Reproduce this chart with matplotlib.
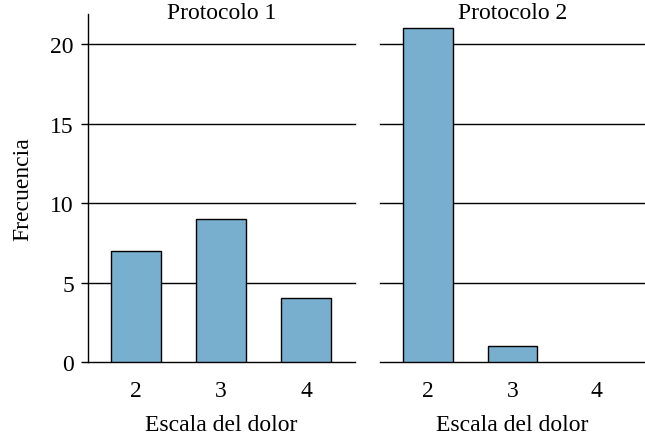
import matplotlib
matplotlib.use("Agg")
import matplotlib.pyplot as plt

plt.rcParams['font.family'] = ['Liberation Serif', 'DejaVu Serif']

escala = [2, 3, 4]
protocolo_1 = [7, 9, 4]
protocolo_2 = [21, 1, 0]
titulos = ["Protocolo 1", "Protocolo 2"]
y_ticks = [0, 5, 10, 15, 20]

bar_color = "#78aece"
fs = 17

fig = plt.figure(figsize=(6.45, 4.39), dpi=100)
ax1 = fig.add_axes([0.136, 0.173, 0.414, 0.793])
ax2 = fig.add_axes([0.589, 0.173, 0.411, 0.793])

for ax, data, titulo in zip([ax1, ax2], [protocolo_1, protocolo_2], titulos):
    # bars with zero height are not drawn in the reference
    lws = [1 if v > 0 else 0 for v in data]
    ax.bar(escala, data, width=0.59, color=bar_color, edgecolor="black", linewidth=lws, zorder=3)
    ax.set_xlim(1.43, 4.57)
    ax.set_ylim(0, 21.9)
    ax.set_yticks(y_ticks)
    ax.set_xticks(escala)
    ax.set_xticklabels([str(e) for e in escala], fontsize=fs)
    ax.yaxis.grid(True, color="black", linewidth=1, zorder=0)
    ax.set_axisbelow(True)
    for gl in ax.get_ygridlines():
        gl.set_clip_on(False)
    for s in ["top", "right", "bottom"]:
        ax.spines[s].set_visible(False)
    ax.tick_params(axis="x", length=0, pad=13)
    ax.set_xlabel("Escala del dolor", fontsize=fs, labelpad=9)
    ax.text(0.5, 1.005, titulo, transform=ax.transAxes, ha="center", va="center", fontsize=fs)

ax1.tick_params(axis="y", length=5, width=1, labelsize=fs, pad=5)
ax1.spines["left"].set_linewidth(1)
ax1.set_ylabel("Frecuencia", fontsize=fs, labelpad=12)

ax2.spines["left"].set_visible(False)
ax2.tick_params(axis="y", length=0, labelleft=False)

fig.savefig("out.png", dpi=100)
